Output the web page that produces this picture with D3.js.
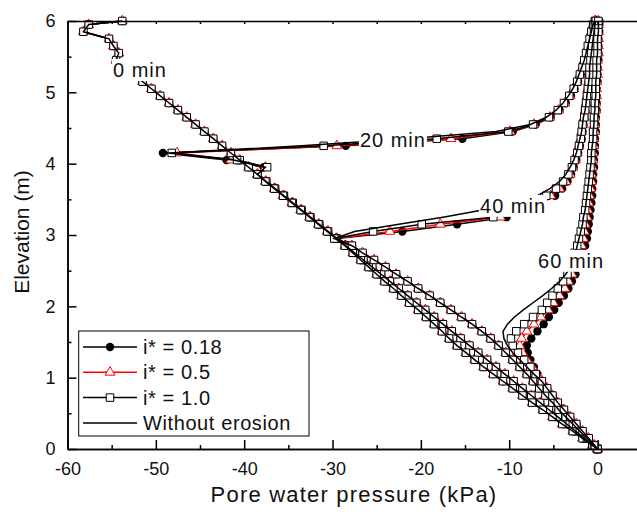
<!DOCTYPE html>
<html>
<head>
<meta charset="utf-8">
<script src="https://cdn.jsdelivr.net/npm/d3@7"></script>
<style>
body { margin: 0; background: #fff; }
text { font-family: Arial, "Liberation Sans", sans-serif; fill: #111; }
</style>
</head>
<body>
<div class="chart"></div>
<script>
// Cotas de los nodos (m): superficie inferior, centros de elemento y superficie superior
var elevation = [0, 0.05, 0.15, 0.25, 0.35, 0.45, 0.55, 0.65, 0.75, 0.85,
  0.95, 1.05, 1.15, 1.25, 1.35, 1.45, 1.55, 1.65, 1.75, 1.85,
  1.95, 2.05, 2.15, 2.25, 2.35, 2.45, 2.55, 2.65, 2.75, 2.85,
  2.95, 3.05, 3.15, 3.25, 3.35, 3.45, 3.55, 3.65, 3.75, 3.85,
  3.95, 4.05, 4.15, 4.25, 4.35, 4.45, 4.55, 4.65, 4.75, 4.85,
  4.95, 5.05, 5.15, 5.25, 5.35, 5.45, 5.55, 5.65, 5.75, 5.85,
  5.95, 6.0];

// 0 min (igual para todas las series)
var p0min = [0, -0.5, -1.5, -2.5, -3.5, -4.5, -5.5, -6.5, -7.5, -8.5,
  -9.5, -10.5, -11.5, -12.5, -13.5, -14.5, -15.5, -16.5, -17.5, -18.5,
  -19.5, -20.5, -21.5, -22.5, -23.5, -24.5, -25.5, -26.5, -27.5, -28.5,
  -29.5, -30.5, -31.5, -32.5, -33.5, -34.5, -35.5, -36.5, -37.5, -38.5,
  -39.5, -40.5, -41.5, -42.5, -43.5, -44.5, -45.5, -46.5, -47.5, -48.5,
  -49.5, -50.5, -51.5, -52.5, -53.5, -54.5, -54.2, -54.8, -55.3, -58.2,
  -57.6, -53.8];

// Zona inferior (por debajo del frente), comun a las series
var low20 = [0, -0.6, -1.7, -2.8, -4.0, -5.1, -6.2, -7.4, -8.5, -9.6,
  -10.7, -11.8, -12.9, -13.9, -14.9, -15.9, -16.8, -17.6, -18.5, -19.4,
  -20.3, -21.3, -22.2, -23.1, -24.1, -25.0, -25.9, -26.8, -27.7, -28.6,
  -29.6, -30.6, -31.6, -32.6, -33.6, -34.6, -35.6, -36.6, -37.6, -38.5];
var low40 = [0, -0.4, -1.2, -2.0, -2.8, -3.6, -4.4, -5.1, -5.9, -6.6,
  -7.3, -8.0, -8.8, -9.6, -10.4, -11.2, -12.1, -13.1, -14.2, -15.4,
  -16.6, -17.8, -19.0, -20.3, -21.5, -22.8, -24.0, -25.3, -26.6, -27.8];
var low60 = [0, -0.3, -1.0, -1.7, -2.4, -3.1, -3.8, -4.5, -5.1, -5.7, -6.3];

// 20 min, cotas 3.95 - 6.0
var up20_018 = [-37.8, -42.0, -49.2, -28.5, -15.3, -9.6, -7.0, -5.3, -4.3, -3.6,
  -3.0, -2.6, -2.2, -1.9, -1.6, -1.4, -1.2, -1.0, -0.8, -0.6, -0.5, -0.3];
var up20_05 = [-37.6, -41.5, -47.6, -29.5, -16.6, -9.9, -7.2, -5.4, -4.4, -3.7,
  -3.1, -2.7, -2.3, -2.0, -1.7, -1.5, -1.2, -1.0, -0.8, -0.7, -0.5, -0.3];
var up20_10 = [-37.4, -40.8, -48.2, -31.0, -18.2, -10.1, -7.3, -5.5, -4.5, -3.8,
  -3.2, -2.7, -2.3, -2.0, -1.7, -1.5, -1.3, -1.1, -0.9, -0.7, -0.5, -0.3];
var up20_ne = [-37.6, -41.2, -48.6, -33.5, -21.5, -11.5, -7.6, -5.8, -4.7, -3.9,
  -3.3, -2.8, -2.4, -2.1, -1.8, -1.5, -1.3, -1.1, -0.9, -0.7, -0.5, -0.3];

// 40 min, cotas 2.95 - 6.0
var up40_018 = [-29.5, -22.1, -15.9, -10.3, -8.3, -6.4, -4.8, -4.0, -3.4, -3.0,
  -2.7, -2.4, -2.2, -2.0, -1.8, -1.7, -1.6, -1.5, -1.4, -1.3,
  -1.2, -1.1, -1.0, -0.9, -0.8, -0.8, -0.7, -0.6, -0.5, -0.4, -0.3, -0.2];
var up40_05 = [-29.6, -23.5, -17.8, -11.0, -8.8, -6.9, -5.3, -4.3, -3.6, -3.1,
  -2.8, -2.5, -2.3, -2.1, -1.9, -1.8, -1.6, -1.5, -1.4, -1.3,
  -1.2, -1.1, -1.0, -0.9, -0.8, -0.8, -0.7, -0.6, -0.5, -0.4, -0.3, -0.2];
var up40_10 = [-29.8, -25.4, -19.9, -11.8, -9.3, -7.4, -5.8, -4.7, -3.9, -3.3,
  -2.9, -2.6, -2.3, -2.1, -1.9, -1.8, -1.7, -1.5, -1.4, -1.3,
  -1.2, -1.1, -1.0, -0.9, -0.9, -0.8, -0.7, -0.6, -0.5, -0.4, -0.3, -0.2];
var up40_ne = [-29.8, -27.5, -22.5, -17.5, -13.0, -9.5, -6.8, -5.4, -4.3, -3.6,
  -3.1, -2.7, -2.4, -2.2, -2.0, -1.8, -1.7, -1.6, -1.4, -1.3,
  -1.2, -1.1, -1.0, -0.9, -0.9, -0.8, -0.7, -0.6, -0.5, -0.4, -0.3, -0.2];

// 60 min, cotas 1.05 - 6.0
var up60_018 = [-6.8, -7.2, -7.6, -7.9, -8.0, -7.5, -6.8, -6.1, -5.5, -4.9,
  -4.4, -3.8, -3.3, -2.9, -2.5, -2.2, -1.9, -1.6, -1.4, -1.2,
  -1.1, -1.0, -0.9, -0.8, -0.7, -0.6, -0.6, -0.5, -0.5, -0.4,
  -0.4, -0.3, -0.3, -0.3, -0.2, -0.2, -0.2, -0.1, -0.1, -0.1,
  -0.1, 0, 0, 0, 0.1, 0.1, 0.1, 0.1, 0.2, 0.2, 0.2];
var up60_05 = [-6.9, -7.4, -8.0, -8.5, -8.8, -8.6, -8.0, -7.2, -6.4, -5.6,
  -5.0, -4.3, -3.7, -3.3, -2.9, -2.5, -2.3, -2.0, -1.8, -1.6,
  -1.5, -1.4, -1.2, -1.1, -1.0, -0.9, -0.8, -0.7, -0.7, -0.6,
  -0.5, -0.5, -0.4, -0.4, -0.3, -0.3, -0.3, -0.2, -0.2, -0.1,
  -0.1, -0.1, 0, 0, 0, 0.1, 0.1, 0.1, 0.1, 0.1, 0.1];
var up60_10 = [-7.0, -7.6, -8.3, -9.0, -9.6, -9.8, -9.2, -8.3, -7.3, -6.3,
  -5.7, -5.1, -4.5, -3.9, -3.4, -3.1, -2.9, -2.6, -2.3, -2.1,
  -1.9, -1.7, -1.6, -1.4, -1.3, -1.2, -1.1, -1.0, -0.9, -0.8,
  -0.7, -0.7, -0.6, -0.5, -0.5, -0.4, -0.4, -0.3, -0.3, -0.2,
  -0.2, -0.2, -0.1, -0.1, -0.1, 0, 0, 0, 0.1, 0.1, 0.1];
var up60_ne = [-7.2, -8.0, -8.8, -9.6, -10.2, -10.6, -10.7, -10.2, -9.4, -8.4,
  -7.3, -6.2, -5.2, -4.3, -3.6, -3.1, -2.8, -2.5, -2.3, -2.1,
  -1.9, -1.7, -1.6, -1.4, -1.3, -1.2, -1.1, -1.0, -0.9, -0.8,
  -0.7, -0.7, -0.6, -0.5, -0.5, -0.4, -0.4, -0.3, -0.3, -0.2,
  -0.2, -0.2, -0.1, -0.1, -0.1, 0, 0, 0, 0.1, 0.1, 0.1];

var seriesNames = ["i* = 0.18", "i* = 0.5", "i* = 1.0", "Without erosion"];
var timeLabels = ["0 min", "20 min", "40 min", "60 min"];
// posicion de las etiquetas en unidades de los ejes [kPa, m]
var labelPos = [[-54.85, 5.215], [-26.9, 4.234], [-13.3, 3.31], [-6.73, 2.54]];

var W = 637, H = 515;
var svg = d3.select(".chart").append("svg")
    .attr("width", W).attr("height", H);

var x = d3.scaleLinear().domain([-60, 5]).range([67.5, 641.7]);
var y = d3.scaleLinear().domain([0, 6]).range([449, 21]);

var series = [
  {name: seriesNames[0], color: "#000", sym: "circle",
   curves: [p0min, low20.concat(up20_018), low40.concat(up40_018), low60.concat(up60_018)]},
  {name: seriesNames[1], color: "#ff0000", sym: "triangle",
   curves: [p0min, low20.concat(up20_05), low40.concat(up40_05), low60.concat(up60_05)]},
  {name: seriesNames[2], color: "#000", sym: "square",
   curves: [p0min, low20.concat(up20_10), low40.concat(up40_10), low60.concat(up60_10)]},
  {name: seriesNames[3], color: "#000", sym: null,
   curves: [p0min, low20.concat(up20_ne), low40.concat(up40_ne), low60.concat(up60_ne)]}
];

var line = d3.line()
    .x(function(d){ return x(d[0]); })
    .y(function(d){ return y(d[1]); });

function drawMarker(g, sym, color) {
  if (sym === "circle") {
    g.append("circle").attr("r", 4.2).attr("fill", "#000");
  } else if (sym === "triangle") {
    g.append("path").attr("d", d3.symbol(d3.symbolTriangle, 42)())
      .attr("fill", "#fff").attr("stroke", color).attr("stroke-width", 1);
  } else if (sym === "square") {
    g.append("path").attr("d", d3.symbol(d3.symbolSquare, 56)())
      .attr("fill", "#fff").attr("stroke", "#000").attr("stroke-width", 1);
  }
}

var plot = svg.append("g");

series.forEach(function(s) {
  s.curves.forEach(function(u) {
    var pts = u.map(function(v, i){ return [v, elevation[i]]; });
    plot.append("path")
      .datum(pts)
      .attr("d", line)
      .attr("fill", "none")
      .attr("stroke", s.color)
      .attr("stroke-width", 1.5);
    if (s.sym) {
      plot.selectAll(null)
        .data(pts)
        .enter()
        .append("g")
        .attr("transform", function(d){ return "translate(" + x(d[0]) + "," + y(d[1]) + ")"; })
        .each(function(){ drawMarker(d3.select(this), s.sym, s.color); });
    }
  });
});

// etiquetas de tiempo con fondo blanco
timeLabels.forEach(function(t, i) {
  var g = svg.append("g");
  var txt = g.append("text")
    .attr("x", x(labelPos[i][0]))
    .attr("y", y(labelPos[i][1]))
    .attr("font-size", "20px")
    .attr("letter-spacing", "1px")
    .text(t);
  var bb = txt.node().getBBox();
  g.insert("rect", "text")
    .attr("x", bb.x - 1).attr("y", bb.y)
    .attr("width", bb.width + 2).attr("height", bb.height)
    .attr("fill", "#fff");
});

// ejes
var fmt = function(d){ return String(d); };
var axStyle = function(g) {
  g.selectAll("path, line").attr("stroke", "#000").attr("stroke-width", 1.5);
  g.selectAll("text").attr("font-size", "18px").attr("fill", "#111")
    .attr("font-family", "Arial, 'Liberation Sans', sans-serif");
};

svg.append("g")
  .attr("transform", "translate(0,449)")
  .call(d3.axisBottom(x).tickValues([-55, -45, -35, -25, -15, -5]).tickSize(-4).tickSizeOuter(0).tickFormat(""))
  .call(axStyle);
svg.append("g")
  .attr("transform", "translate(0,449)")
  .call(d3.axisBottom(x).tickValues([-60, -50, -40, -30, -20, -10, 0]).tickSize(-9).tickSizeOuter(0).tickPadding(13).tickFormat(fmt))
  .call(axStyle);

svg.append("g")
  .attr("transform", "translate(0,21)")
  .call(d3.axisTop(x).tickValues(d3.range(-60, 6, 5)).tickSize(-3).tickSizeOuter(0).tickFormat(""))
  .call(axStyle);

svg.append("g")
  .attr("transform", "translate(67.5,0)")
  .call(d3.axisLeft(y).tickValues([0.5, 1.5, 2.5, 3.5, 4.5, 5.5]).tickSize(-4).tickSizeOuter(0).tickFormat(""))
  .call(axStyle);
svg.append("g")
  .attr("transform", "translate(67.5,0)")
  .call(d3.axisLeft(y).tickValues([0, 1, 2, 3, 4, 5, 6]).tickSize(-9).tickSizeOuter(0).tickPadding(12).tickFormat(fmt))
  .call(axStyle);

svg.append("text")
  .attr("x", 354).attr("y", 502)
  .attr("text-anchor", "middle")
  .attr("font-size", "22px")
  .attr("letter-spacing", "1.2px")
  .text("Pore water pressure (kPa)");

svg.append("text")
  .attr("transform", "translate(29,232) rotate(-90)")
  .attr("text-anchor", "middle")
  .attr("font-size", "21px")
  .text("Elevation (m)");

// leyenda
var leg = svg.append("g");
leg.append("rect")
  .attr("x", 78.7).attr("y", 331).attr("width", 230.3).attr("height", 105)
  .attr("fill", "#fff").attr("stroke", "#000").attr("stroke-width", 1);
series.forEach(function(s, i) {
  var ly = 347 + i * 25.3;
  leg.append("line")
    .attr("x1", 83).attr("x2", 137).attr("y1", ly).attr("y2", ly)
    .attr("stroke", s.color).attr("stroke-width", 1.5);
  if (s.sym) {
    var mg = leg.append("g").attr("transform", "translate(110," + ly + ")");
    drawMarker(mg, s.sym, s.color);
  }
  leg.append("text")
    .attr("x", 143).attr("y", ly + 7)
    .attr("font-size", "20px")
    .attr("letter-spacing", "0.6px")
    .text(s.name);
});
</script>
</body>
</html>
